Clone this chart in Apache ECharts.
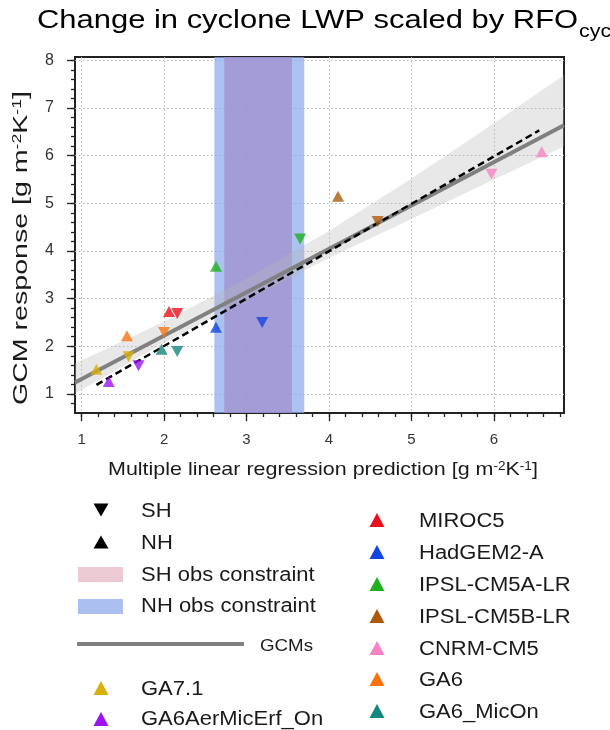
<!DOCTYPE html>
<html><head><meta charset="utf-8">
<script src="https://cdn.jsdelivr.net/npm/echarts@6/dist/echarts.min.js"></script>
<style>html,body{margin:0;padding:0;background:#fff}#c{width:610px;height:730px}</style>
</head><body><div id="c"></div>
<script>
// ---- data ----
const models = ['MIROC5','HadGEM2-A','IPSL-CM5A-LR','IPSL-CM5B-LR','CNRM-CM5','GA6','GA6_MicOn','GA7.1','GA6AerMicErf_On'];
const nhX = [2.06, 2.63, 2.63, 4.11, 6.58, 1.55, 1.97, 1.18, 1.33];
const nhY = [2.73, 2.40, 3.68, 5.15, 6.08, 2.22, 1.94, 1.52, 1.26];
const shX = [2.16, 3.19, 3.65, 4.59, 5.97, 2.00, 2.16, 1.57, 1.69];
const shY = [2.69, 2.50, 4.25, 4.62, 5.61, 2.29, 1.89, 1.78, 1.59];
const xTicks = [1, 2, 3, 4, 5, 6];
const yTicks = [1, 2, 3, 4, 5, 6, 7, 8];
const nhObs = [2.61, 3.70];
const shObs = [2.73, 3.55];
const fitX = [0.92, 6.85];
const fitY = [1.24, 6.64];
const oneX = [1.18, 6.55];
const oneY = [1.19, 6.53];
const bandX = [0.92, 2, 3, 4, 5, 6, 6.85];
const bandLow = [1.01, 2.07, 2.97, 3.85, 4.67, 5.50, 6.19];
const bandHigh = [1.64, 2.52, 3.42, 4.42, 5.52, 6.68, 7.69];

// ---- styles ----
const modelColors = ['#e8101c','#1346e0','#22b022','#a95a0c','#f783c4','#f87412','#14877b','#d8b00a','#9a14ef'];
const FONT = '"Liberation Sans", Arial, Helvetica, sans-serif';
const xMin = 0.92, xMax = 6.85, yMin = 0.6, yMax = 8.07;
const xMinor = [], yMinor = [];
for (let i = 5; i <= 34; i++) xMinor.push(+(i * 0.2).toFixed(1));
for (let i = 4; i <= 40; i++) yMinor.push(+(i * 0.2).toFixed(1));

const chart = echarts.init(document.getElementById('c'), null, {renderer: 'canvas'});

const tickStyle = {color: '#222', width: 1.3};
const split = {show: true, lineStyle: {color: '#b5b5b5', width: 1, type: [1.5, 2.5]}};

function tri(cx, cy, w, h, up, color) {
  const pts = up ? [[cx, cy - h / 2], [cx + w / 2, cy + h / 2], [cx - w / 2, cy + h / 2]]
                 : [[cx, cy + h / 2], [cx + w / 2, cy - h / 2], [cx - w / 2, cy - h / 2]];
  return {type: 'polygon', shape: {points: pts}, style: {fill: color}};
}
function txt(x, y, s, size, sx, fill) {
  return {type: 'text', x: x, y: y, scaleX: sx || 1,
    style: {text: s, fontSize: size, fontFamily: FONT, fill: fill || '#1a1a1a', align: 'left', verticalAlign: 'middle'}};
}

const cv = document.createElement('canvas').getContext('2d');
const titleMain = 'Change in cyclone LWP scaled by RFO';
cv.font = '26px ' + FONT;
const titleW = cv.measureText(titleMain).width;
const TSX = 1.19;

const graphics = [
  txt(37, 21, titleMain, 26, TSX, '#000'),
  txt(37 + titleW * TSX + 1, 32, 'cyc', 18, TSX, '#000'),
  {type: 'text', x: 108, y: 470, scaleX: 1.13,
   style: {text: '{a|Multiple linear regression prediction [g m}{b|-2}{a|K}{b|-1}{a|]}', fill: '#1a1a1a', align: 'left', verticalAlign: 'middle',
     rich: {a: {fontSize: 19, fontFamily: FONT, fill: '#1a1a1a'}, b: {fontSize: 12, fontFamily: FONT, fill: '#1a1a1a', verticalAlign: 'top'}}}},
  {type: 'text', x: 21, y: 248, rotation: Math.PI / 2, scaleX: 1.36,
   style: {text: '{a|GCM response [g m}{b|-2}{a|K}{b|-1}{a|]}', fill: '#1a1a1a', align: 'center', verticalAlign: 'middle',
     rich: {a: {fontSize: 21, fontFamily: FONT, fill: '#1a1a1a'}, b: {fontSize: 13, fontFamily: FONT, fill: '#1a1a1a', verticalAlign: 'top'}}}},
  // legend left column
  tri(101, 510, 15, 13, false, '#000'), txt(141, 511, 'SH', 20, 1.1),
  tri(101, 542, 15, 13, true, '#000'), txt(141, 543, 'NH', 20, 1.1),
  {type: 'rect', shape: {x: 78, y: 567, width: 45, height: 15}, style: {fill: '#eccad4'}}, txt(141, 575, 'SH obs constraint', 20, 1.1),
  {type: 'rect', shape: {x: 78, y: 599, width: 45, height: 15}, style: {fill: '#abc0f0'}}, txt(141, 606, 'NH obs constraint', 20, 1.1),
  {type: 'line', shape: {x1: 77, y1: 644, x2: 244, y2: 644}, style: {stroke: '#808080', lineWidth: 4}}, txt(260, 646, 'GCMs', 17, 1.1),
  tri(101, 688, 15, 14, true, modelColors[7]), txt(141, 689, models[7], 20, 1.1),
  tri(101, 719, 15, 14, true, modelColors[8]), txt(141, 719, models[8], 20, 1.1)
];
const rightY = [520, 552, 584, 616, 648, 679, 711];
for (let i = 0; i < 7; i++) {
  graphics.push(tri(377, rightY[i], 15, 14, true, modelColors[i]));
  graphics.push(txt(419, rightY[i] + 1, models[i], 20, 1.1));
}

const option = {
  animation: false,
  backgroundColor: '#fff',
  grid: {left: 75, top: 57, width: 489, height: 356, show: true, borderColor: '#222', borderWidth: 2, backgroundColor: 'transparent'},
  xAxis: [
    {type: 'value', min: xMin, max: xMax, position: 'bottom',
     axisLine: {show: false},
     axisTick: {show: true, customValues: xTicks, length: 8, lineStyle: tickStyle},
     axisLabel: {customValues: xTicks, fontSize: 15, fontFamily: FONT, color: '#333', margin: 19},
     splitLine: split},
    {type: 'value', min: xMin, max: xMax, position: 'bottom',
     axisLine: {show: false},
     axisTick: {show: true, customValues: xMinor, length: 4, lineStyle: tickStyle},
     axisLabel: {show: false}, splitLine: {show: false}}
  ],
  yAxis: [
    {type: 'value', min: yMin, max: yMax, position: 'left', splitNumber: 7,
     axisLine: {show: false},
     axisTick: {show: true, customValues: yTicks, length: 8, lineStyle: tickStyle},
     axisLabel: {customValues: yTicks, fontSize: 16, fontFamily: FONT, color: '#333', margin: 21},
     splitLine: split},
    {type: 'value', min: yMin, max: yMax, position: 'left',
     axisLine: {show: false},
     axisTick: {show: true, customValues: yMinor, length: 4, lineStyle: tickStyle},
     axisLabel: {show: false}, splitLine: {show: false}}
  ],
  graphic: graphics,
  series: [
    {type: 'line', data: [], silent: true,
     markArea: {silent: true, data: [
       [{xAxis: nhObs[0], itemStyle: {color: 'rgba(140,170,235,0.72)'}}, {xAxis: nhObs[1]}],
       [{xAxis: shObs[0], itemStyle: {color: 'rgba(160,142,204,0.72)'}}, {xAxis: shObs[1]}]
     ]}},
    {type: 'custom', z: 2, silent: true, clip: true,
     encode: {x: 0, y: [1, 2]},
     data: bandX.map((x, i) => [x, bandLow[i], bandHigh[i]]),
     renderItem: function (params, api) {
       if (params.dataIndex !== 0) return null;
       const pts = [];
       for (let i = 0; i < bandX.length; i++) pts.push(api.coord([bandX[i], bandHigh[i]]));
       for (let i = bandX.length - 1; i >= 0; i--) pts.push(api.coord([bandX[i], bandLow[i]]));
       return {type: 'polygon', shape: {points: pts}, style: {fill: 'rgba(185,185,185,0.32)'}};
     }},
    {type: 'line', symbol: 'none', z: 3, lineStyle: {color: '#808080', width: 4},
     data: fitX.map((x, i) => [x, fitY[i]])},
    {type: 'line', symbol: 'none', z: 4, lineStyle: {color: '#000', width: 2.5, type: [7, 4]},
     data: oneX.map((x, i) => [x, oneY[i]])},
    {type: 'scatter', z: 5, symbol: 'triangle', symbolSize: [12, 11],
     data: nhX.map((x, i) => ({value: [x, nhY[i]], itemStyle: {color: modelColors[i]}}))},
    {type: 'scatter', z: 5, symbol: 'triangle', symbolSize: [12, 11], symbolRotate: 180,
     data: shX.map((x, i) => ({value: [x, shY[i]], itemStyle: {color: modelColors[i]}}))}
  ]
};
chart.setOption(option);
</script>
</body></html>
